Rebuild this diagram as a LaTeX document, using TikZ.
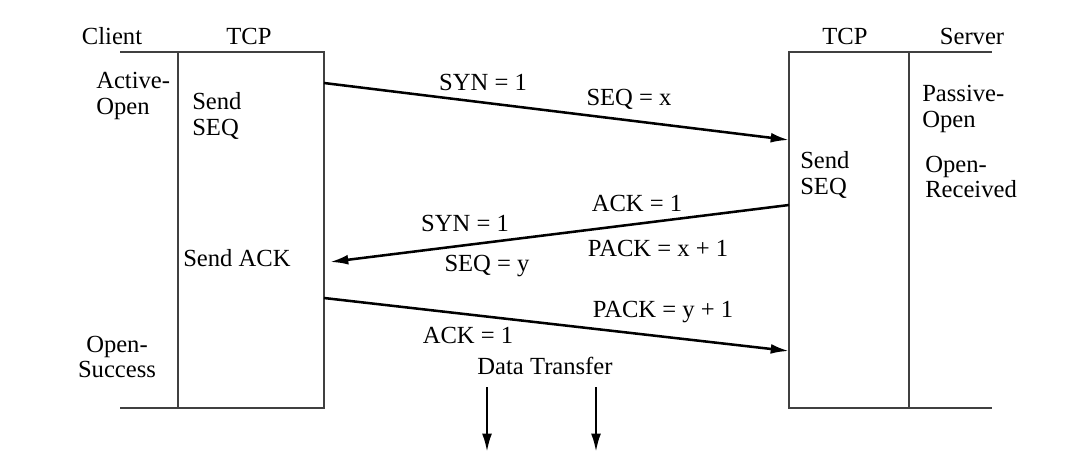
\documentclass[tikz,border=0pt]{standalone}
\usepackage{fontspec}
\setmainfont{Liberation Serif}
\usetikzlibrary{positioning,arrows.meta}

\begin{document}
\begin{tikzpicture}[x=0.025cm, y=-0.025cm]
    % Define styles
    \tikzset{lifeline/.style={draw=black!75, line width=1.3pt}}
    \tikzset{msg/.style={line width=1.8pt, -{Latex[length=13pt, width=7pt]}}}
    \tikzset{lbl/.style={inner sep=0pt, font=\fontsize{17.5pt}{18pt}\selectfont}}
    \tikzset{note/.style={lbl, anchor=west, align=left}}

    \useasboundingbox (0,0) rectangle (1066,460);

    % Draw TCP boxes and lifelines
    \coordinate (cl top) at (120,52);
    \coordinate (cl bot) at (120,408);
    \coordinate (lt nw) at (178,52);
    \coordinate (lt se) at (324,408);
    \coordinate (rt nw) at (789,52);
    \coordinate (rt se) at (909,408);
    \coordinate (sv top) at (992,52);
    \coordinate (sv bot) at (992,408);

    \draw[lifeline] (cl top) -- (lt nw);
    \draw[lifeline] (cl bot) -- (lt nw |- lt se);
    \draw[lifeline] (lt nw) rectangle (lt se);
    \draw[lifeline] (rt nw) rectangle (rt se);
    \draw[lifeline] (rt se |- rt nw) -- (sv top);
    \draw[lifeline] (rt se) -- (sv bot);

    % Column headings
    \node[lbl] (client) at (112,36) {Client};
    \node[lbl] (ltcp) at (249,36) {TCP};
    \node[lbl] (rtcp) at (845,36) {TCP};
    \node[lbl] (server) at (972,36) {Server};

    % State notes
    \node[note] (active) at (96,96) {Active-\\Open};
    \node[note] (lsend) at (192,116) {Send\\SEQ};
    \node[note] (sendack) at (183,258) {Send ACK};
    \node[lbl, align=center] (success) at (117,357) {Open-\\Success};
    \node[note] (rsend) at (800,175) {Send\\SEQ};
    \node[note] (passive) at (922,109) {Passive-\\Open};
    \node[note] (received) at (925,177) {Open-\\Received};

    % Message end points
    \coordinate (syn out) at (324,83);
    \coordinate (syn in) at (789,140);
    \coordinate (synack out) at (789,205);
    \coordinate (synack in) at (330,262);
    \coordinate (ack out) at (324,298);
    \coordinate (ack in) at (789,351);
    \coordinate (data1 top) at (487,387);
    \coordinate (data1 bot) at (487,452);
    \coordinate (data2 top) at (596,387);
    \coordinate (data2 bot) at (596,452);

    % Messages
    \draw[msg] (syn out) -- (syn in);
    \draw[msg] (synack out) -- (synack in);
    \draw[msg] (ack out) -- (ack in);
    \draw[msg] (data1 top) -- (data1 bot);
    \draw[msg] (data2 top) -- (data2 bot);

    % Message labels
    \node[lbl] (syn1) at (483,82) {SYN = 1};
    \node[lbl] (seqx) at (629,99) {SEQ = x};
    \node[lbl] (ack1) at (637,203) {ACK = 1};
    \node[lbl] (syn2) at (465,223) {SYN = 1};
    \node[lbl] (packx) at (658,248) {PACK = x + 1};
    \node[lbl] (seqy) at (487,266) {SEQ = y};
    \node[lbl] (packy) at (663,312) {PACK = y + 1};
    \node[lbl] (ack2) at (468,335) {ACK = 1};
    \node[lbl] (data) at (545,366) {Data Transfer};

\end{tikzpicture}
\end{document}
